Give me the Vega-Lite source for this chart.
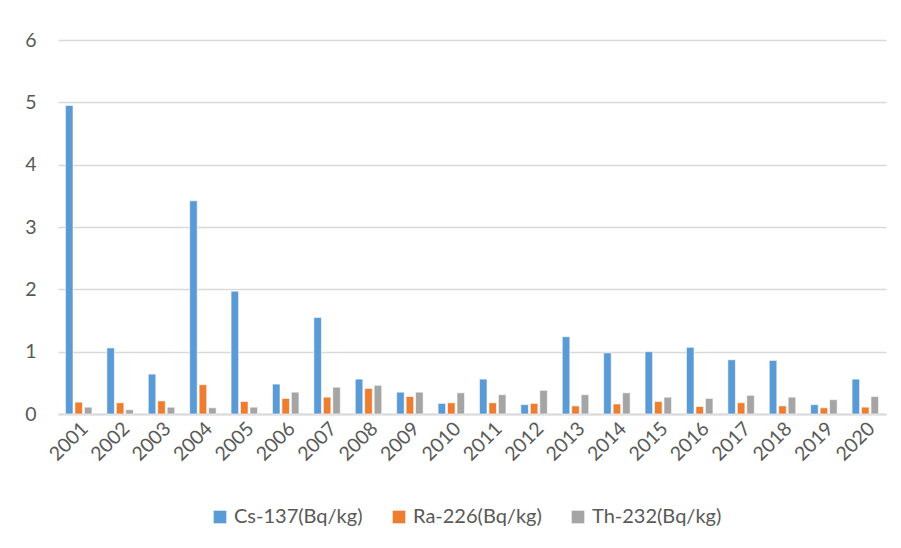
{
  "$schema": "https://vega.github.io/schema/vega-lite/v6.json",
  "width": 828,
  "height": 374,
  "autosize": {"type": "none"},
  "padding": {"left": 58, "top": 40, "right": 15, "bottom": 134},
  "background": "white",
  "data": {
    "values": [
      {"year": "2001", "nuclide": "Cs-137(Bq/kg)", "value": 4.95},
      {"year": "2001", "nuclide": "Ra-226(Bq/kg)", "value": 0.19},
      {"year": "2001", "nuclide": "Th-232(Bq/kg)", "value": 0.11},
      {"year": "2002", "nuclide": "Cs-137(Bq/kg)", "value": 1.06},
      {"year": "2002", "nuclide": "Ra-226(Bq/kg)", "value": 0.18},
      {"year": "2002", "nuclide": "Th-232(Bq/kg)", "value": 0.07},
      {"year": "2003", "nuclide": "Cs-137(Bq/kg)", "value": 0.64},
      {"year": "2003", "nuclide": "Ra-226(Bq/kg)", "value": 0.21},
      {"year": "2003", "nuclide": "Th-232(Bq/kg)", "value": 0.11},
      {"year": "2004", "nuclide": "Cs-137(Bq/kg)", "value": 3.42},
      {"year": "2004", "nuclide": "Ra-226(Bq/kg)", "value": 0.47},
      {"year": "2004", "nuclide": "Th-232(Bq/kg)", "value": 0.10},
      {"year": "2005", "nuclide": "Cs-137(Bq/kg)", "value": 1.97},
      {"year": "2005", "nuclide": "Ra-226(Bq/kg)", "value": 0.20},
      {"year": "2005", "nuclide": "Th-232(Bq/kg)", "value": 0.11},
      {"year": "2006", "nuclide": "Cs-137(Bq/kg)", "value": 0.48},
      {"year": "2006", "nuclide": "Ra-226(Bq/kg)", "value": 0.25},
      {"year": "2006", "nuclide": "Th-232(Bq/kg)", "value": 0.35},
      {"year": "2007", "nuclide": "Cs-137(Bq/kg)", "value": 1.55},
      {"year": "2007", "nuclide": "Ra-226(Bq/kg)", "value": 0.27},
      {"year": "2007", "nuclide": "Th-232(Bq/kg)", "value": 0.43},
      {"year": "2008", "nuclide": "Cs-137(Bq/kg)", "value": 0.56},
      {"year": "2008", "nuclide": "Ra-226(Bq/kg)", "value": 0.41},
      {"year": "2008", "nuclide": "Th-232(Bq/kg)", "value": 0.46},
      {"year": "2009", "nuclide": "Cs-137(Bq/kg)", "value": 0.35},
      {"year": "2009", "nuclide": "Ra-226(Bq/kg)", "value": 0.28},
      {"year": "2009", "nuclide": "Th-232(Bq/kg)", "value": 0.35},
      {"year": "2010", "nuclide": "Cs-137(Bq/kg)", "value": 0.17},
      {"year": "2010", "nuclide": "Ra-226(Bq/kg)", "value": 0.18},
      {"year": "2010", "nuclide": "Th-232(Bq/kg)", "value": 0.34},
      {"year": "2011", "nuclide": "Cs-137(Bq/kg)", "value": 0.56},
      {"year": "2011", "nuclide": "Ra-226(Bq/kg)", "value": 0.18},
      {"year": "2011", "nuclide": "Th-232(Bq/kg)", "value": 0.31},
      {"year": "2012", "nuclide": "Cs-137(Bq/kg)", "value": 0.15},
      {"year": "2012", "nuclide": "Ra-226(Bq/kg)", "value": 0.17},
      {"year": "2012", "nuclide": "Th-232(Bq/kg)", "value": 0.38},
      {"year": "2013", "nuclide": "Cs-137(Bq/kg)", "value": 1.24},
      {"year": "2013", "nuclide": "Ra-226(Bq/kg)", "value": 0.13},
      {"year": "2013", "nuclide": "Th-232(Bq/kg)", "value": 0.31},
      {"year": "2014", "nuclide": "Cs-137(Bq/kg)", "value": 0.98},
      {"year": "2014", "nuclide": "Ra-226(Bq/kg)", "value": 0.16},
      {"year": "2014", "nuclide": "Th-232(Bq/kg)", "value": 0.34},
      {"year": "2015", "nuclide": "Cs-137(Bq/kg)", "value": 1.00},
      {"year": "2015", "nuclide": "Ra-226(Bq/kg)", "value": 0.20},
      {"year": "2015", "nuclide": "Th-232(Bq/kg)", "value": 0.27},
      {"year": "2016", "nuclide": "Cs-137(Bq/kg)", "value": 1.07},
      {"year": "2016", "nuclide": "Ra-226(Bq/kg)", "value": 0.12},
      {"year": "2016", "nuclide": "Th-232(Bq/kg)", "value": 0.25},
      {"year": "2017", "nuclide": "Cs-137(Bq/kg)", "value": 0.87},
      {"year": "2017", "nuclide": "Ra-226(Bq/kg)", "value": 0.18},
      {"year": "2017", "nuclide": "Th-232(Bq/kg)", "value": 0.30},
      {"year": "2018", "nuclide": "Cs-137(Bq/kg)", "value": 0.86},
      {"year": "2018", "nuclide": "Ra-226(Bq/kg)", "value": 0.13},
      {"year": "2018", "nuclide": "Th-232(Bq/kg)", "value": 0.27},
      {"year": "2019", "nuclide": "Cs-137(Bq/kg)", "value": 0.15},
      {"year": "2019", "nuclide": "Ra-226(Bq/kg)", "value": 0.10},
      {"year": "2019", "nuclide": "Th-232(Bq/kg)", "value": 0.23},
      {"year": "2020", "nuclide": "Cs-137(Bq/kg)", "value": 0.56},
      {"year": "2020", "nuclide": "Ra-226(Bq/kg)", "value": 0.11},
      {"year": "2020", "nuclide": "Th-232(Bq/kg)", "value": 0.28}
    ]
  },
  "mark": {"type": "bar", "stroke": "white", "strokeWidth": 0.6},
  "encoding": {
    "x": {
      "field": "year", "type": "nominal", "title": null,
      "scale": {"paddingInner": 0.36, "paddingOuter": 0.18},
      "axis": {
        "labelAngle": -45, "labelFontSize": 19.5, "labelColor": "#595959",
        "labelFont": "Lato", "ticks": false, "domainColor": "#D9D9D9",
        "domainWidth": 2, "labelPadding": 5
      }
    },
    "xOffset": {
      "field": "nuclide", "type": "nominal",
      "scale": {"paddingInner": 0.2, "paddingOuter": 0}
    },
    "y": {
      "field": "value", "type": "quantitative", "title": null,
      "scale": {"domain": [0, 6], "nice": false},
      "axis": {
        "values": [0, 1, 2, 3, 4, 5, 6], "labelFontSize": 19.5, "labelColor": "#595959",
        "labelFont": "Lato", "ticks": false, "domain": false,
        "gridColor": "#D9D9D9", "gridWidth": 1.3, "labelPadding": 22
      }
    },
    "color": {
      "field": "nuclide", "type": "nominal", "title": null,
      "scale": {
        "domain": ["Cs-137(Bq/kg)", "Ra-226(Bq/kg)", "Th-232(Bq/kg)"],
        "range": ["#5B9BD5", "#ED7D31", "#A5A5A5"]
      },
      "legend": {
        "orient": "none", "legendX": 152, "legendY": 467, "direction": "horizontal",
        "symbolType": "square", "symbolSize": 160, "symbolStrokeWidth": 0,
        "labelFontSize": 20, "labelFont": "Lato", "labelColor": "#595959",
        "columnPadding": 26, "labelOffset": 4
      }
    }
  },
  "config": {"view": {"stroke": null}}
}
